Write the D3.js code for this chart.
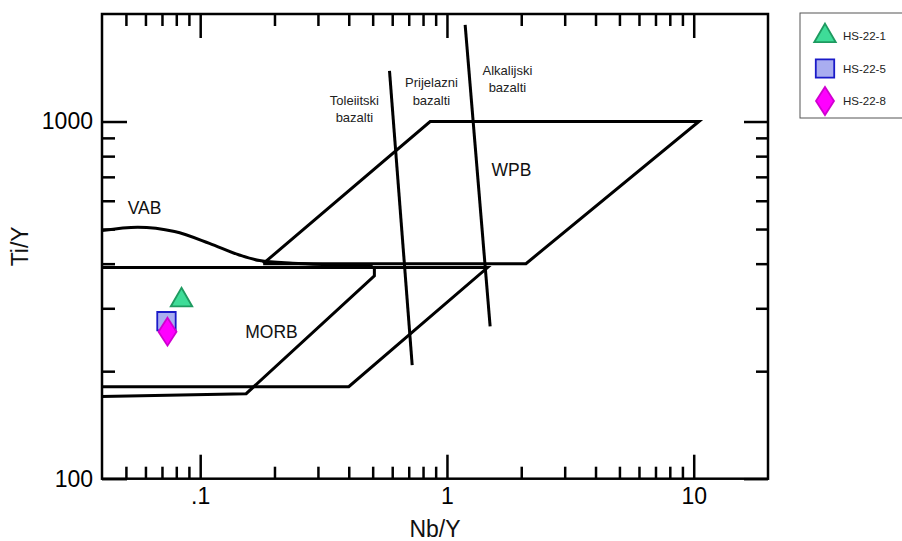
<!DOCTYPE html>
<html>
<head>
<meta charset="utf-8">
<script src="https://cdn.jsdelivr.net/npm/d3@7"></script>
<style>
  html, body { margin: 0; padding: 0; background: #fff; }
  svg { display: block; font-family: "Liberation Sans", Arial, Helvetica, sans-serif; }
</style>
</head>
<body>
<svg id="chart" width="902" height="541"></svg>
<script>
// ---------- data ----------
const xDomain = [0.04, 20];
const yDomain = [100, 2000];
const xMajorTicks = [0.1, 1, 10];
const xTickLabels = [".1", "1", "10"];
const xMinorTicks = [0.05, 0.06, 0.07, 0.08, 0.09, 0.2, 0.3, 0.4, 0.5, 0.6, 0.7, 0.8, 0.9, 2, 3, 4, 5, 6, 7, 8, 9];
const yMajorTicks = [100, 1000];
const yTickLabels = ["100", "1000"];
const yMinorTicks = [200, 300, 400, 500, 600, 700, 800, 900];

// field boundaries [Nb/Y, Ti/Y]
const wpbField = [[0.18, 400], [0.855, 1000], [10.5, 1000], [2.09, 400], [0.18, 400]];
const morbOuter = [[0.04, 390], [1.46, 390], [0.40, 181], [0.04, 181]];
const morbInner = [[0.04, 390], [0.508, 390], [0.508, 370], [0.1536, 173], [0.04, 170]];
const vabCurve = [[0.04, 495], [0.0558, 506], [0.0787, 492], [0.109, 456], [0.144, 423], [0.174, 408], [0.237, 401], [0.35, 397], [0.5, 394]];
const tholeiiteLine = [[0.585, 1387], [0.723, 208]];
const alkaliLine = [[1.185, 1866], [1.496, 267]];

// field labels: text lines, anchor [Nb/Y, Ti/Y]
const fieldLabels = [
  { lines: ["VAB"], at: [0.0595, 573], kind: "big" },
  { lines: ["MORB"], at: [0.1945, 258], kind: "big" },
  { lines: ["WPB"], at: [1.825, 732], kind: "big" },
  { lines: ["Toleiitski", "bazalti"], at: [0.4217, 1150], kind: "small" },
  { lines: ["Prijelazni", "bazalti"], at: [0.865, 1290], kind: "small" },
  { lines: ["Alkalijski", "bazalti"], at: [1.758, 1395], kind: "small" }
];

// samples
const sampleNames = ["HS-22-1", "HS-22-5", "HS-22-8"];
const sampleNbY = [0.084, 0.073, 0.0737];
const sampleTiY = [316, 276, 258];
const sampleShapes = ["triangle", "square", "diamond"];
const sampleFill = ["#3edc98", "#a9adf0", "#ff00ff"];
const sampleStroke = ["#1e9a60", "#1a1ac8", "#d000d0"];

// ---------- layout ----------
const svg = d3.select("#chart");
const L = 102, R = 768, T = 14, B = 478.7;
const x = d3.scaleLog().domain(xDomain).range([L, R]);
const y = d3.scaleLog().domain(yDomain).range([B, T]);

const tickFont = 23;
function styleAxis(g) {
  g.select(".domain").remove();
  g.selectAll(".tick line").attr("stroke", "#000").attr("stroke-width", 2.5);
  g.selectAll(".tick text").attr("fill", "#000").attr("font-size", tickFont)
    .attr("font-family", "Liberation Sans, Arial, sans-serif");
}

// bottom
svg.append("g").attr("transform", `translate(0,${B})`)
  .call(d3.axisBottom(x).tickValues(xMinorTicks).tickSize(-12).tickFormat(""))
  .call(styleAxis);
svg.append("g").attr("transform", `translate(0,${B})`)
  .call(d3.axisBottom(x).tickValues(xMajorTicks).tickSize(-24).tickPadding(8.5)
    .tickFormat((d, i) => xTickLabels[i]))
  .call(styleAxis);
// top
svg.append("g").attr("transform", `translate(0,${T})`)
  .call(d3.axisTop(x).tickValues(xMinorTicks).tickSize(-12).tickFormat(""))
  .call(styleAxis);
svg.append("g").attr("transform", `translate(0,${T})`)
  .call(d3.axisTop(x).tickValues(xMajorTicks).tickSize(-24).tickFormat(""))
  .call(styleAxis);
// left
svg.append("g").attr("transform", `translate(${L},0)`)
  .call(d3.axisLeft(y).tickValues(yMinorTicks).tickSize(-13).tickFormat(""))
  .call(styleAxis);
svg.append("g").attr("transform", `translate(${L},0)`)
  .call(d3.axisLeft(y).tickValues(yMajorTicks).tickSize(-25).tickPadding(9)
    .tickFormat((d, i) => yTickLabels[i]))
  .call(styleAxis);
// right
svg.append("g").attr("transform", `translate(${R},0)`)
  .call(d3.axisRight(y).tickValues(yMinorTicks).tickSize(-12).tickFormat(""))
  .call(styleAxis);
svg.append("g").attr("transform", `translate(${R},0)`)
  .call(d3.axisRight(y).tickValues(yMajorTicks).tickSize(-24).tickFormat(""))
  .call(styleAxis);

// frame
svg.append("rect").attr("x", L).attr("y", T).attr("width", R - L).attr("height", B - T)
  .attr("fill", "none").attr("stroke", "#000").attr("stroke-width", 2.5);

// field lines
const line = d3.line().x(d => x(d[0])).y(d => y(d[1]));
const curve = d3.line().x(d => x(d[0])).y(d => y(d[1])).curve(d3.curveMonotoneX);
const gLines = svg.append("g").attr("fill", "none").attr("stroke", "#000")
  .attr("stroke-width", 3).attr("stroke-linejoin", "miter");
[wpbField, morbOuter, morbInner, tholeiiteLine, alkaliLine].forEach(p =>
  gLines.append("path").attr("d", line(p)));
gLines.append("path").attr("d", curve(vabCurve));

// field labels
fieldLabels.forEach(lb => {
  const fs = lb.kind === "big" ? 17.5 : 13;
  const lh = lb.kind === "big" ? 0 : 17.5;
  const t = svg.append("text")
    .attr("x", x(lb.at[0])).attr("y", y(lb.at[1]))
    .attr("text-anchor", "middle").attr("dominant-baseline", "central")
    .attr("font-size", fs).attr("fill", lb.kind === "big" ? "#111" : "#222");
  lb.lines.forEach((s, i) => t.append("tspan")
    .attr("x", x(lb.at[0])).attr("dy", i === 0 ? 0 : lh).text(s));
});

// axis titles
svg.append("text").attr("x", (L + R) / 2).attr("y", 537)
  .attr("text-anchor", "middle").attr("font-size", 23).attr("fill", "#111").text("Nb/Y");
svg.append("text").attr("transform", `translate(28,${(T + B) / 2}) rotate(-90)`)
  .attr("text-anchor", "middle").attr("font-size", 23).attr("fill", "#111").text("Ti/Y");

// marker path generators
function markerPath(shape) {
  if (shape === "triangle") return d3.symbol(d3.symbolTriangle, 200)();
  if (shape === "square") return d3.symbol(d3.symbolSquare, 340)();
  const w = 9, h = 14;
  return `M0,${-h}L${w},0L0,${h}L${-w},0Z`;
}

// samples
sampleNames.forEach((n, i) => {
  svg.append("path")
    .attr("d", markerPath(sampleShapes[i]))
    .attr("transform", `translate(${x(sampleNbY[i])},${y(sampleTiY[i])})`)
    .attr("fill", sampleFill[i]).attr("stroke", sampleStroke[i]).attr("stroke-width", 1.8);
});

// legend
const lg = svg.append("g");
lg.append("rect").attr("x", 800).attr("y", 13).attr("width", 110).attr("height", 105)
  .attr("fill", "#fff").attr("stroke", "#555").attr("stroke-width", 1);
sampleNames.forEach((n, i) => {
  const cy = 36 + i * 32.5;
  lg.append("path").attr("d", markerPath(sampleShapes[i]))
    .attr("transform", `translate(825,${cy})`)
    .attr("fill", sampleFill[i]).attr("stroke", sampleStroke[i]).attr("stroke-width", 1.8);
  lg.append("text").attr("x", 843).attr("y", cy).attr("dominant-baseline", "central")
    .attr("font-size", 11.5).attr("fill", "#222").text(n);
});
</script>
</body>
</html>
